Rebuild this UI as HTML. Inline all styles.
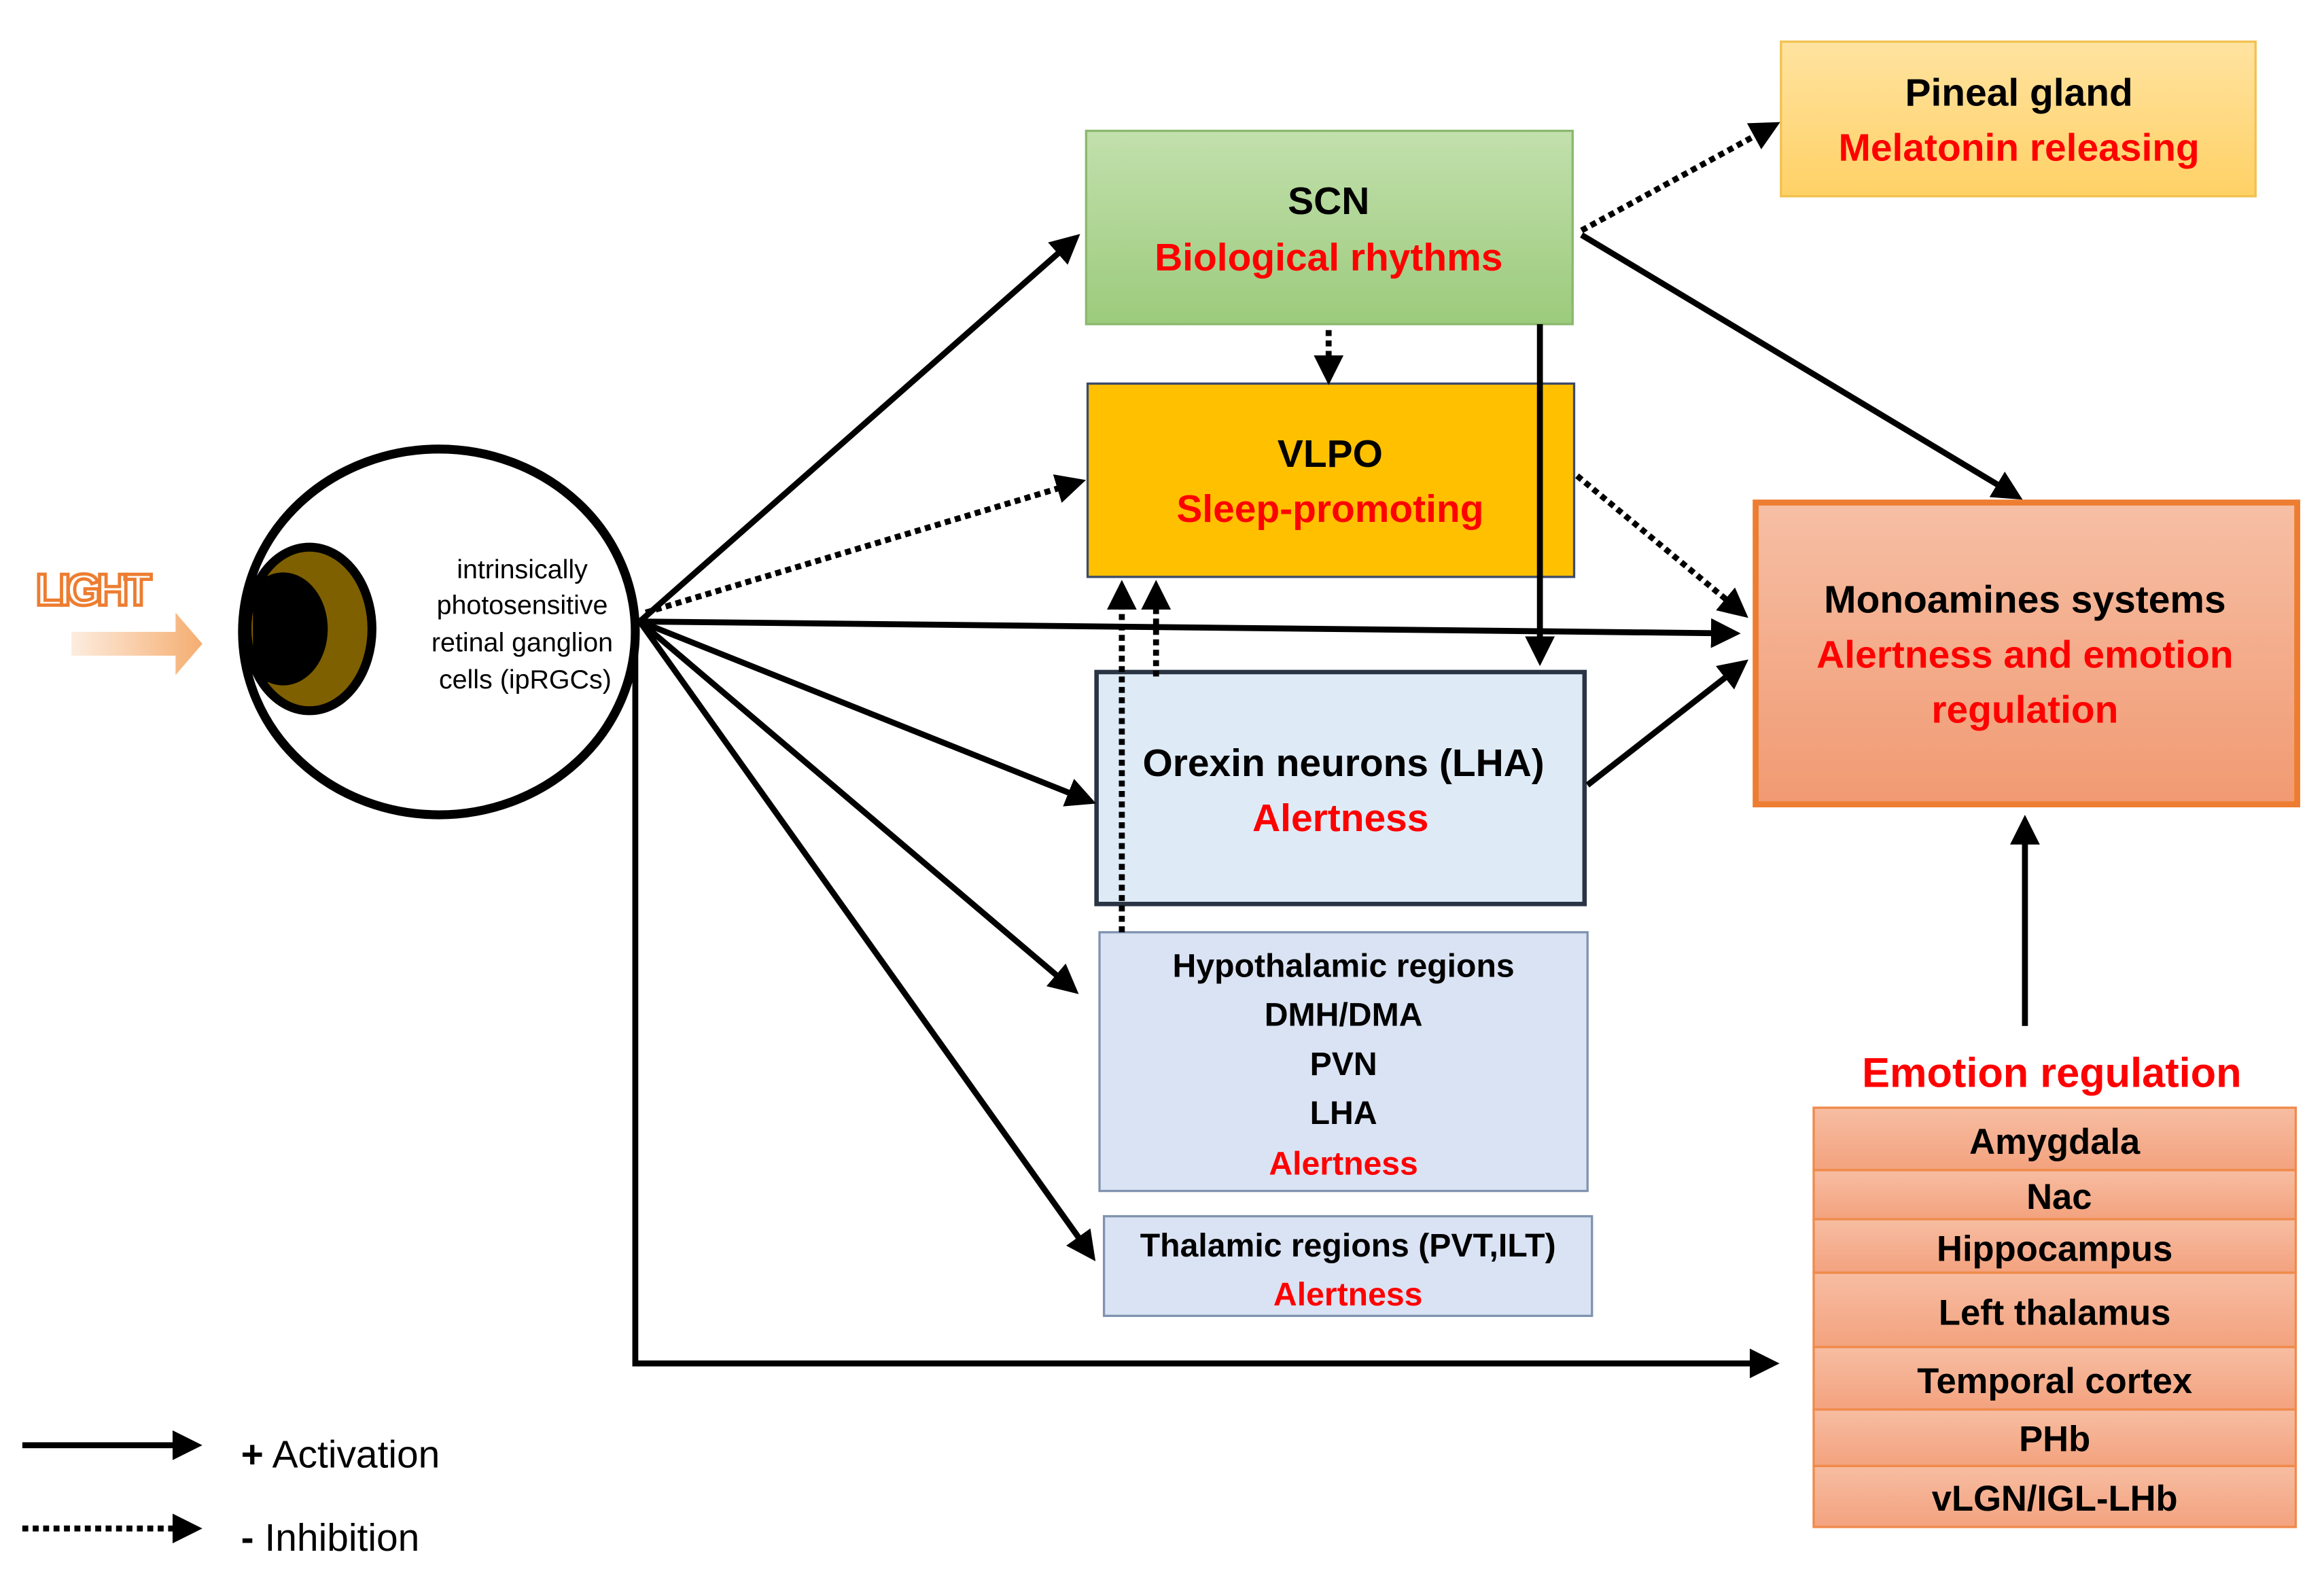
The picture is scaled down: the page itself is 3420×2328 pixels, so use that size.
<!DOCTYPE html>
<html><head><meta charset="utf-8"><style>
html,body{margin:0;padding:0;background:#fff;}
svg{display:block;}
text{font-family:"Liberation Sans",sans-serif;}
</style></head><body>
<svg width="3420" height="2328" viewBox="0 0 1562 1064" preserveAspectRatio="none" xmlns="http://www.w3.org/2000/svg">
<defs>
<marker id="a" markerWidth="5" markerHeight="5" refX="4" refY="2.5" orient="auto" markerUnits="strokeWidth"><path d="M0,0 L5,2.5 L0,5 z" fill="#000"/></marker>
<linearGradient id="gP" x1="0" y1="0" x2="0" y2="1"><stop offset="0" stop-color="#ffe3a0"/><stop offset="1" stop-color="#ffd166"/></linearGradient>
<linearGradient id="gS" x1="0" y1="0" x2="0" y2="1"><stop offset="0" stop-color="#c2e0ad"/><stop offset="1" stop-color="#9ccb7c"/></linearGradient>
<linearGradient id="gM" x1="0" y1="0" x2="0" y2="1"><stop offset="0" stop-color="#f6bfa5"/><stop offset="1" stop-color="#f19a72"/></linearGradient>
<linearGradient id="gR" x1="0" y1="0" x2="0" y2="1"><stop offset="0" stop-color="#f7bda2"/><stop offset="1" stop-color="#f3a27e"/></linearGradient>
<linearGradient id="gL" x1="0" y1="0" x2="1" y2="0"><stop offset="0" stop-color="#f4a460" stop-opacity="0.2"/><stop offset="1" stop-color="#f4a460" stop-opacity="0.9"/></linearGradient>
</defs>

<!-- boxes -->
<rect x="1197" y="28" width="319" height="104" fill="url(#gP)" stroke="#f2c14e" stroke-width="1.5"/>
<text x="1357" y="71" font-size="26" font-weight="bold" text-anchor="middle">Pineal gland</text>
<text x="1357" y="108" font-size="26" font-weight="bold" text-anchor="middle" fill="#ff0000">Melatonin releasing</text>

<rect x="730" y="88" width="327" height="130" fill="url(#gS)" stroke="#8ab86d" stroke-width="1.5"/>
<text x="893" y="144" font-size="26" font-weight="bold" text-anchor="middle">SCN</text>
<text x="893" y="182" font-size="26" font-weight="bold" text-anchor="middle" fill="#ff0000">Biological rhythms</text>

<rect x="731" y="258" width="327" height="130" fill="#ffc000" stroke="#3a4a6a" stroke-width="1.5"/>
<text x="894" y="314" font-size="26" font-weight="bold" text-anchor="middle">VLPO</text>
<text x="894" y="351" font-size="26" font-weight="bold" text-anchor="middle" fill="#ff0000">Sleep-promoting</text>

<rect x="1180" y="338" width="364" height="203" fill="url(#gM)" stroke="#ed7d31" stroke-width="4"/>
<text x="1361" y="412" font-size="26" font-weight="bold" text-anchor="middle">Monoamines systems</text>
<text x="1361" y="449" font-size="26" font-weight="bold" text-anchor="middle" fill="#ff0000">Alertness and emotion</text>
<text x="1361" y="486" font-size="26" font-weight="bold" text-anchor="middle" fill="#ff0000">regulation</text>

<rect x="737" y="452" width="328" height="156" fill="#deebf7" stroke="#2b3444" stroke-width="3"/>
<text x="903" y="522" font-size="26" font-weight="bold" text-anchor="middle">Orexin neurons (LHA)</text>
<text x="901" y="559" font-size="26" font-weight="bold" text-anchor="middle" fill="#ff0000">Alertness</text>

<rect x="739" y="627" width="328" height="174" fill="#dae3f3" stroke="#7f93b0" stroke-width="1.5"/>
<g font-size="22" font-weight="bold" text-anchor="middle">
<text x="903" y="657">Hypothalamic regions</text>
<text x="903" y="690">DMH/DMA</text>
<text x="903" y="723">PVN</text>
<text x="903" y="756">LHA</text>
<text x="903" y="790" fill="#ff0000">Alertness</text>
</g>

<rect x="742" y="818" width="328" height="67" fill="#dae3f3" stroke="#7f93b0" stroke-width="1.5"/>
<text x="906" y="845" font-size="22" font-weight="bold" text-anchor="middle">Thalamic regions (PVT,ILT)</text>
<text x="906" y="878" font-size="22" font-weight="bold" text-anchor="middle" fill="#ff0000">Alertness</text>

<text x="1379" y="731" font-size="28" font-weight="bold" text-anchor="middle" fill="#ff0000">Emotion regulation</text>
<g stroke="#f08a4b" stroke-width="1.5" fill="url(#gR)">
<rect x="1219" y="745" width="324" height="42"/>
<rect x="1219" y="787" width="324" height="33"/>
<rect x="1219" y="820" width="324" height="36"/>
<rect x="1219" y="856" width="324" height="50"/>
<rect x="1219" y="906" width="324" height="42"/>
<rect x="1219" y="948" width="324" height="38"/>
<rect x="1219" y="986" width="324" height="41"/>
</g>
<g font-size="24" font-weight="bold" text-anchor="middle">
<text x="1381" y="776">Amygdala</text>
<text x="1384" y="813">Nac</text>
<text x="1381" y="848">Hippocampus</text>
<text x="1381" y="891">Left thalamus</text>
<text x="1381" y="937">Temporal cortex</text>
<text x="1381" y="976">PHb</text>
<text x="1381" y="1016">vLGN/IGL-LHb</text>
</g>

<!-- eye -->
<text x="24" y="407" font-size="30" font-weight="bold" fill="#fff" stroke="#ed7d31" stroke-width="2.2" letter-spacing="-3">LIGHT</text>
<path d="M48,425 L118,425 L118,412 L136,433 L118,454 L118,441 L48,441 z" fill="url(#gL)"/>
<ellipse cx="295" cy="425" rx="132" ry="123" fill="#fff" stroke="#000" stroke-width="6"/>
<ellipse cx="208" cy="423" rx="42" ry="55" fill="#7f6000" stroke="#000" stroke-width="6"/>
<path d="M170,395 A30,38 0 1,1 170,451 z" fill="#000"/>
<ellipse cx="192" cy="423" rx="22" ry="36" fill="#000"/>
<g font-size="18" text-anchor="middle">
<text x="351" y="389">intrinsically</text>
<text x="351" y="413">photosensitive</text>
<text x="351" y="438">retinal ganglion</text>
<text x="353" y="463">cells (ipRGCs)</text>
</g>

<!-- arrows -->
<g stroke="#000" stroke-width="4" fill="none">
<line x1="430" y1="418" x2="723" y2="160" marker-end="url(#a)"/>
<line x1="430" y1="418" x2="1166" y2="426" marker-end="url(#a)"/>
<line x1="430" y1="418" x2="733" y2="539" marker-end="url(#a)"/>
<line x1="430" y1="418" x2="722" y2="666" marker-end="url(#a)"/>
<line x1="430" y1="418" x2="734" y2="845" marker-end="url(#a)"/>
<polyline points="427,420 427,917 1192,917" marker-end="url(#a)"/>
<line x1="1035" y1="218" x2="1035" y2="444" marker-end="url(#a)"/>
<line x1="1063" y1="158" x2="1356" y2="334" marker-end="url(#a)"/>
<line x1="1067" y1="528" x2="1172" y2="446" marker-end="url(#a)"/>
<line x1="1361" y1="690" x2="1361" y2="552" marker-end="url(#a)"/>
<line x1="15" y1="972" x2="132" y2="972" marker-end="url(#a)"/>
</g>
<g stroke="#000" stroke-width="4" fill="none" stroke-dasharray="4,3">
<line x1="434" y1="412" x2="726" y2="324" marker-end="url(#a)"/>
<line x1="893" y1="222" x2="893" y2="255" marker-end="url(#a)"/>
<line x1="1063" y1="155" x2="1193" y2="84" marker-end="url(#a)"/>
<line x1="1060" y1="320" x2="1172" y2="413" marker-end="url(#a)"/>
<line x1="754" y1="627" x2="754" y2="394" marker-end="url(#a)"/>
<line x1="777" y1="455" x2="777" y2="394" marker-end="url(#a)"/>
<line x1="15" y1="1028" x2="132" y2="1028" marker-end="url(#a)"/>
</g>
<text x="162" y="987" font-size="26"><tspan font-weight="bold">+</tspan> Activation</text>
<text x="162" y="1043" font-size="26"><tspan font-weight="bold">-</tspan> Inhibition</text>
</svg>
</body></html>
